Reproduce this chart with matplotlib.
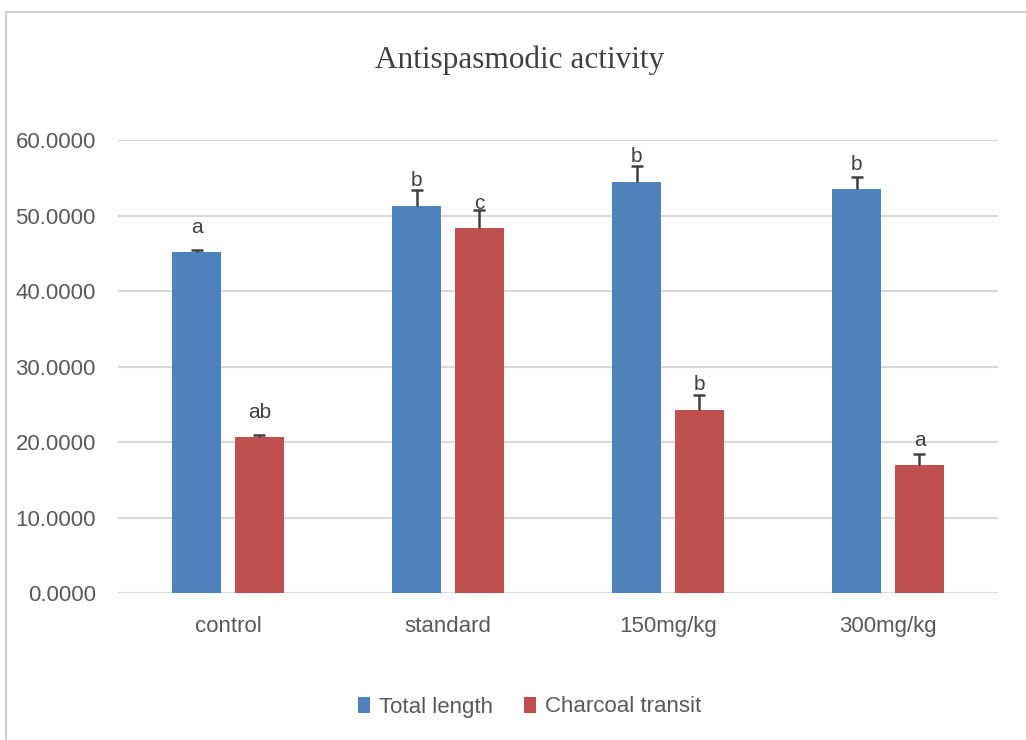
import numpy as np
import matplotlib.pyplot as plt
from matplotlib.patches import Rectangle

groups = ['control', 'standard', '150mg/kg', '300mg/kg']
total_length = [45.2, 51.3, 54.5, 53.5]
total_err = [0.3, 2.1, 2.0, 1.6]
charcoal = [20.7, 48.3, 24.3, 17.0]
charcoal_err = [0.2, 2.4, 2.0, 1.5]
letters_total = ['a', 'b', 'b', 'b']
letters_charcoal = ['ab', 'c', 'b', 'a']

blue = '#4f81bd'
red = '#c0504d'
grey = '#595959'
sans = ['Liberation Sans', 'DejaVu Sans']

fig = plt.figure(figsize=(10.26, 7.40), dpi=100)
# chart area outline
fig.patches.append(Rectangle((6 / 1026, -0.1), 1.2, 1 - 12 / 740 + 0.1,
                             transform=fig.transFigure, fill=False,
                             edgecolor='#d0d0d0', linewidth=1.5))

ax = fig.add_axes([118 / 1026, 1 - 593.3 / 740, 880 / 1026, (593.3 - 140) / 740])
x = np.arange(len(groups))
w = 0.223
off = 0.143

b1 = ax.bar(x - off, total_length, w, color=blue, label='Total length', zorder=3)
b2 = ax.bar(x + off, charcoal, w, color=red, label='Charcoal transit', zorder=3)
for pos, vals, errs in ((x - off, total_length, total_err), (x + off, charcoal, charcoal_err)):
    eb = ax.errorbar(pos, vals, yerr=[np.zeros(4), errs], fmt='none',
                     ecolor='#404040', elinewidth=1.8, capsize=4, capthick=1.8, zorder=4)
    # only the upper cap is wanted
    eb[1][0].set_visible(False)

for bars, labs in ((b1, letters_total), (b2, letters_charcoal)):
    for r, t in zip(bars, labs):
        ax.annotate(t, (r.get_x() + r.get_width() / 2, r.get_height()),
                    xytext=(0, 11), textcoords='offset points', ha='center',
                    va='bottom', fontsize=15, color='#404040', family=sans,
                    zorder=5)

ax.set_ylim(0, 60)
ax.set_xlim(-0.5, 3.5)
ax.set_yticks(np.arange(0, 61, 10))
ax.set_yticklabels(['%.4f' % v for v in np.arange(0, 61, 10)])
ax.set_xticks(x)
ax.set_xticklabels(groups)
ax.yaxis.grid(True, color='#d9d9d9', linewidth=1.5, zorder=0)
ax.set_axisbelow(True)
for s in ax.spines.values():
    s.set_visible(False)
ax.tick_params(axis='both', length=0, colors=grey, labelsize=16)
ax.tick_params(axis='y', pad=16)
ax.tick_params(axis='x', pad=16)
for lab in ax.get_xticklabels() + ax.get_yticklabels():
    lab.set_family(sans)

fig.text(0.506, 1 - 60 / 740, 'Antispasmodic activity', ha='center', va='center',
         fontsize=22.5, color='#404040', family=['Liberation Serif', 'DejaVu Serif'])

fig.legend(handles=[b1, b2], loc='center', bbox_to_anchor=(0.516, 1 - 707 / 740),
           ncol=2, frameon=False, handlelength=0.55, handleheight=0.75,
           handletextpad=0.4, columnspacing=1.4,
           prop={'family': sans, 'size': 16}, labelcolor=grey)

fig.savefig('out.png', dpi=100)
